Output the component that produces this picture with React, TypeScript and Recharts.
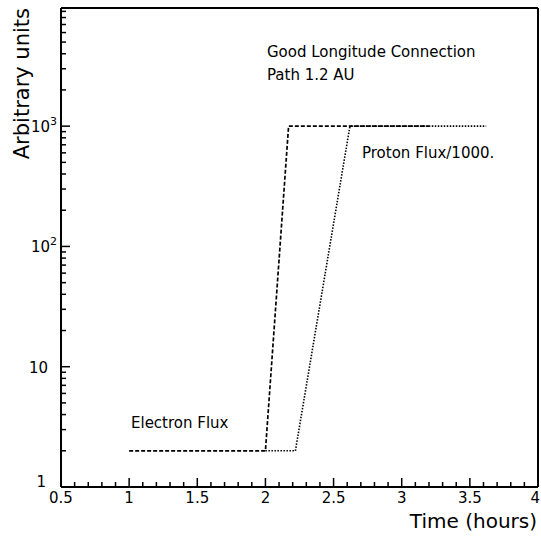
import React from 'react';
import { LineChart, Line, XAxis, YAxis, ReferenceLine } from 'recharts';

// time in hours, flux in arbitrary units
const electronTime = [1, 2, 2.17, 3.2];
const electronFlux = [2, 2, 1000, 1000];
const protonTime = [2, 2.22, 2.62, 3.62];
const protonFlux = [2, 2, 1000, 1000];

const xMajorTicks = [0.5, 1, 1.5, 2, 2.5, 3, 3.5, 4];
const xTickLabels = ['0.5', '1', '1.5', '2', '2.5', '3', '3.5', '4'];
const xMinorTicks = [
  0.6, 0.7, 0.8, 0.9, 1.1, 1.2, 1.3, 1.4, 1.6, 1.7, 1.8, 1.9, 2.1, 2.2, 2.3, 2.4,
  2.6, 2.7, 2.8, 2.9, 3.1, 3.2, 3.3, 3.4, 3.6, 3.7, 3.8, 3.9,
];

const yMajorTicks = [1, 10, 100, 1000];
const yTickBase = ['1', '10', '10', '10'];
const yTickExp = ['', '', '2', '3'];
const yMinorTicks = [
  2, 3, 4, 5, 6, 7, 8, 9, 20, 30, 40, 50, 60, 70, 80, 90,
  200, 300, 400, 500, 600, 700, 800, 900, 2000, 3000, 4000, 5000, 6000, 7000, 8000, 9000,
];

const X_MIN = 0.5;
const X_MAX = 4;
const Y_MIN = 1;
const Y_MAX = 9600;

const FONT = '"DejaVu Sans", sans-serif';

const electronData = electronTime.map((x, i) => ({ x, y: electronFlux[i] }));
const protonData = protonTime.map((x, i) => ({ x, y: protonFlux[i] }));

function XTick(props: any) {
  const { x, y, payload } = props;
  const idx = xMajorTicks.indexOf(payload.value);
  const major = idx >= 0;
  const last = idx === xMajorTicks.length - 1;
  return (
    <g>
      <line x1={x} x2={x} y1={y} y2={y - (major ? 9 : 5)} stroke="#000" strokeWidth={1.5} />
      {major && (
        <text
          x={last ? x + 2 : x}
          y={y + 16}
          textAnchor={last ? 'end' : 'middle'}
          fontFamily={FONT}
          fontSize={15}
          fill="#000"
        >
          {xTickLabels[idx]}
        </text>
      )}
    </g>
  );
}

function YTick(props: any) {
  const { x, y, payload } = props;
  const idx = yMajorTicks.indexOf(payload.value);
  const major = idx >= 0;
  const exp = major ? yTickExp[idx] : '';
  return (
    <g>
      <line x1={x} x2={x + (major ? 9 : 5)} y1={y} y2={y} stroke="#000" strokeWidth={1.5} />
      {major && exp === '' && (
        <text
          x={x - (idx === 0 ? 15 : 13)}
          y={y + (idx === 0 ? 0 : 6)}
          textAnchor="end"
          fontFamily={FONT}
          fontSize={15}
          fill="#000"
        >
          {yTickBase[idx]}
        </text>
      )}
      {major && exp !== '' && (
        <text x={x - 11} y={y + 6} textAnchor="end" fontFamily={FONT} fontSize={15} fill="#000">
          {yTickBase[idx]}
        </text>
      )}
      {major && exp !== '' && (
        <text x={x - 11} y={y - 1} textAnchor="start" fontFamily={FONT} fontSize={11} fill="#000">
          {exp}
        </text>
      )}
    </g>
  );
}

export default function App() {
  return (
    <div style={{ position: 'absolute', left: 0, top: 0, width: 541, height: 536, background: '#fff' }}>
      <LineChart width={541} height={536} margin={{ top: 8, right: 3, left: 0, bottom: 0 }}>
        <XAxis
          type="number"
          dataKey="x"
          domain={[X_MIN, X_MAX]}
          allowDataOverflow
          ticks={[...xMajorTicks, ...xMinorTicks]}
          interval={0}
          tick={<XTick />}
          tickLine={false}
          tickSize={0}
          tickMargin={0}
          height={49}
          axisLine={{ stroke: '#000', strokeWidth: 2 }}
        />
        <YAxis
          type="number"
          scale="log"
          domain={[Y_MIN, Y_MAX]}
          allowDataOverflow
          ticks={[...yMajorTicks, ...yMinorTicks]}
          interval={0}
          tick={<YTick />}
          tickLine={false}
          tickSize={0}
          tickMargin={0}
          width={61}
          axisLine={{ stroke: '#000', strokeWidth: 2 }}
        />
        <ReferenceLine y={Y_MAX} stroke="#000" strokeWidth={2} />
        <ReferenceLine x={X_MAX} stroke="#000" strokeWidth={2} />
        <Line
          data={protonData}
          dataKey="y"
          type="linear"
          stroke="#000"
          strokeWidth={1.6}
          strokeDasharray="1.5 1.5"
          dot={false}
          isAnimationActive={false}
        />
        <Line
          data={electronData}
          dataKey="y"
          type="linear"
          stroke="#000"
          strokeWidth={1.7}
          strokeDasharray="4 2"
          dot={false}
          isAnimationActive={false}
        />
      </LineChart>
      <svg
        width={541}
        height={536}
        style={{ position: 'absolute', left: 0, top: 0, pointerEvents: 'none' }}
        fontFamily={FONT}
        fill="#000"
      >
        <text x={267} y={57} fontSize={15}>Good Longitude Connection</text>
        <text x={267} y={80} fontSize={15}>Path 1.2 AU</text>
        <text x={362} y={158} fontSize={15}>Proton Flux/1000.</text>
        <text x={131} y={428} fontSize={15}>Electron Flux</text>
        <text x={537} y={528} fontSize={20} textAnchor="end">Time (hours)</text>
        <text x={29} y={8} fontSize={21} textAnchor="end" transform="rotate(-90 29 8)">
          Arbitrary units
        </text>
      </svg>
    </div>
  );
}
